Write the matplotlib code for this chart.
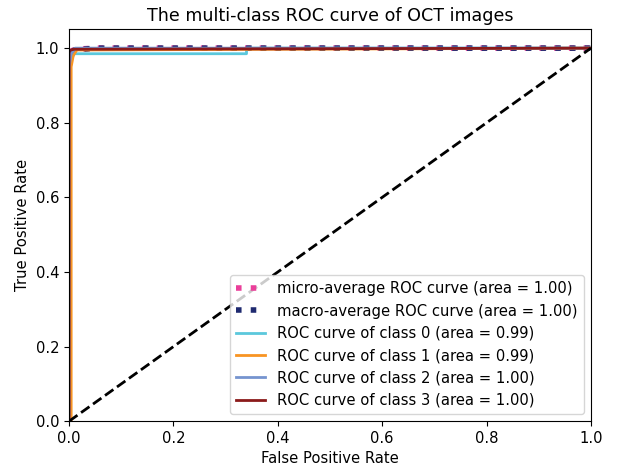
import matplotlib
matplotlib.use("Agg")
import matplotlib.pyplot as plt

# ROC data
micro_fpr = [0.0, 0.0, 0.003, 0.01, 0.05, 1.0]
micro_tpr = [0.0, 0.97, 0.99, 0.997, 1.0, 1.0]
micro_auc = 1.00

macro_fpr = [0.0, 0.0, 0.003, 0.01, 0.05, 1.0]
macro_tpr = [0.0, 0.96, 0.985, 0.995, 1.0, 1.0]
macro_auc = 1.00

class_fpr = [
    [0.0, 0.0, 0.004, 0.01, 0.34, 0.34, 1.0],
    [0.0, 0.004, 0.004, 0.008, 0.015, 1.0],
    [0.0, 0.0, 0.004, 0.012, 1.0],
    [0.0, 0.0, 0.003, 0.01, 1.0],
]
class_tpr = [
    [0.0, 0.9, 0.97, 0.985, 0.985, 1.0, 1.0],
    [0.0, 0.0, 0.95, 0.98, 0.995, 1.0],
    [0.0, 0.95, 0.985, 1.0, 1.0],
    [0.0, 0.99, 0.995, 0.997, 1.0],
]
class_auc = [0.99, 0.99, 1.00, 1.00]
class_colors = ["#5bc8dc", "#f89422", "#7594cf", "#8b1a1a"]

plt.rcParams["font.size"] = 10.6

fig = plt.figure(figsize=(6.28, 4.68), dpi=100)
ax = fig.add_axes([0.110, 0.100, 0.831, 0.837])

ax.plot(micro_fpr, micro_tpr, color="#ea3f9a", linestyle=":", linewidth=4,
        label="micro-average ROC curve (area = {0:0.2f})".format(micro_auc))
ax.plot(macro_fpr, macro_tpr, color="#1f2a70", linestyle=":", linewidth=4,
        label="macro-average ROC curve (area = {0:0.2f})".format(macro_auc))
for i in range(len(class_fpr)):
    ax.plot(class_fpr[i], class_tpr[i], color=class_colors[i], lw=2,
            label="ROC curve of class {0} (area = {1:0.2f})".format(i, class_auc[i]))

ax.plot([0, 1], [0, 1], "k--", lw=2)
ax.set_xlim([0.0, 1.0])
ax.set_ylim([0.0, 1.05])
ax.set_xlabel("False Positive Rate")
ax.set_ylabel("True Positive Rate")
ax.set_title("The multi-class ROC curve of OCT images", fontsize=12.6)
ax.legend(loc="lower right")

fig.savefig("out.png", dpi=100)
